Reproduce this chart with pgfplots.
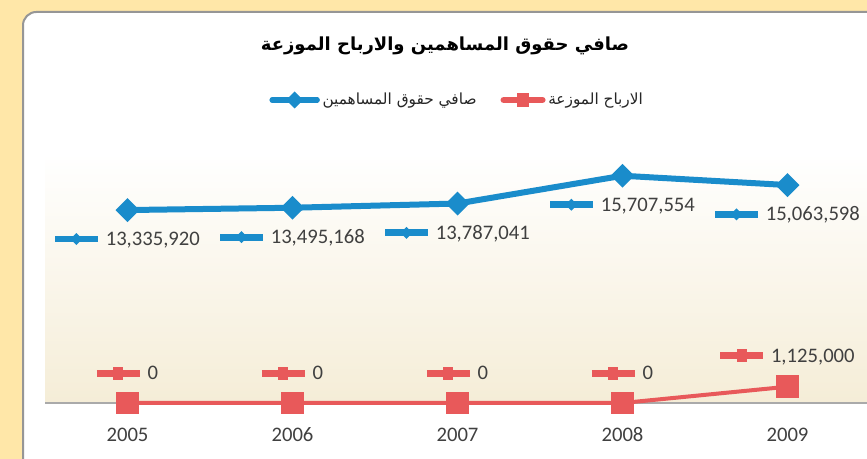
\documentclass[border=0pt]{standalone}
\usepackage{pgfplots}
\pgfplotsset{compat=1.18}
\usepackage{pgfplotstable}
\usepackage{fontspec}
\usepackage{graphicx}
\setmainfont{Carlito}
\newfontfamily\arabicfont[Script=Arabic]{DejaVu Sans}
\TeXXeTstate=1
\definecolor{bgy}{RGB}{255,231,168}
\definecolor{panelborder}{RGB}{150,150,150}
\definecolor{cblue}{RGB}{26,140,203}
\definecolor{cred}{RGB}{232,89,90}
\definecolor{beige}{RGB}{245,237,215}
\definecolor{axisgray}{RGB}{170,170,170}
\definecolor{txt}{RGB}{64,64,64}

\pgfplotstableread{
year value label
2005 13335920 13,335,920
2006 13495168 13,495,168
2007 13787041 13,787,041
2008 15707554 15,707,554
2009 15063598 15,063,598
}\equitytable

\pgfplotstableread{
year value label
2005 0 0
2006 0 0
2007 0 0
2008 0 0
2009 1125000 1,125,000
}\divtable

% small keys drawn with rules (line + marker) for the data labels
\newcommand{\bluekey}{{\color{cblue}%
  \rlap{\rule[\dimexpr 0.31em-2.6pt\relax]{32pt}{5.2pt}}%
  \hspace{11.5pt}%
  \raisebox{\dimexpr 0.31em-4.5pt\relax}{\rotatebox{45}{\rule{6.36pt}{6.36pt}}}%
  \hspace{11.5pt}}}
\newcommand{\redkey}{{\color{cred}%
  \rlap{\rule[\dimexpr 0.31em-2.5pt\relax]{32pt}{5pt}}%
  \hspace{12.25pt}%
  \rule[\dimexpr 0.31em-4.9pt\relax]{7.5pt}{9.8pt}%
  \hspace{12.25pt}}}
\newcommand{\labfont}{\fontsize{15.5pt}{18pt}\selectfont}

\begin{document}
\begin{tikzpicture}
\useasboundingbox (0,0) rectangle (650.25pt,344.25pt);
\begin{scope}[x=0.75pt,y=0.75pt]
\fill[bgy] (0,0) rectangle (867,459);
\draw[panelborder, line width=1.5pt, fill=white, rounded corners=10pt] (23,-40) rectangle (940,447);
\end{scope}
\begin{axis}[
  at={(33.75pt,42pt)}, anchor=south west,
  scale only axis, width=618.75pt, height=187.5pt,
  xmin=2004.5, xmax=2009.5, ymin=0, ymax=17.28e6,
  axis x line*=bottom, axis y line=none,
  x axis line style={axisgray, line width=1pt, -},
  xtick={2005,2006,2007,2008,2009},
  xticklabels={2005,2006,2007,2008,2009},
  major tick length=0pt,
  xticklabel style={anchor=center, yshift=-24pt, font=\labfont, text=txt},
  ytick=\empty,
  axis background/.style={top color=white, bottom color=beige},
  clip=false,
  legend style={at={(0.5,1.212)}, anchor=center, draw=none, fill=none,
    legend columns=2, font=\arabicfont\fontsize{11.5pt}{14pt}\selectfont,
    text=black!85,
    /tikz/every even column/.append style={column sep=16pt},
    nodes={inner sep=2pt}},
]
\addplot[cblue, line width=4.5pt, mark=square*, mark size=4.1pt,
  mark options={rotate=45, fill=cblue, draw=none},
  legend image code/.code={
    \draw[cblue, line width=3.8pt, line cap=round] (2pt,0pt) -- (36pt,0pt);
    \fill[cblue] (19pt,3.2pt) -- (22.2pt,0pt) -- (19pt,-3.2pt) -- (15.8pt,0pt) -- cycle;}]
  table[x=year, y=value] {\equitytable};
\addlegendentry{\beginR صافي حقوق المساهمين\endR}
\addplot[cred, line width=3pt, mark=square*, mark size=7pt,
  mark options={fill=cred, draw=none},
  legend image code/.code={
    \draw[cred, line width=4.8pt, line cap=round] (2pt,0pt) -- (31pt,0pt);
    \fill[cred] (13.5pt,-3.6pt) rectangle (19.5pt,3.6pt);}]
  table[x=year, y=value] {\divtable};
\addlegendentry{\beginR الارباح الموزعة\endR}

\addplot[draw=none, mark=none, forget plot,
  point meta=explicit symbolic,
  nodes near coords={\bluekey\hspace{6pt}\pgfplotspointmeta},
  every node near coord/.append style={anchor=center, yshift=-22.5pt, font=\labfont, text=txt, inner sep=0pt}]
  table[x=year, y=value, meta=label] {\equitytable};
\addplot[draw=none, mark=none, forget plot,
  point meta=explicit symbolic,
  nodes near coords={\redkey\hspace{6pt}\pgfplotspointmeta},
  every node near coord/.append style={anchor=center, yshift=22.5pt, font=\labfont, text=txt, inner sep=0pt}]
  table[x=year, y=value, meta=label] {\divtable};
\end{axis}
\node[font=\arabicfont\bfseries\fontsize{13.5pt}{16pt}\selectfont, text=black] at (333.75pt,310pt) {\beginR صافي حقوق المساهمين والارباح الموزعة\endR};
\end{tikzpicture}
\end{document}
